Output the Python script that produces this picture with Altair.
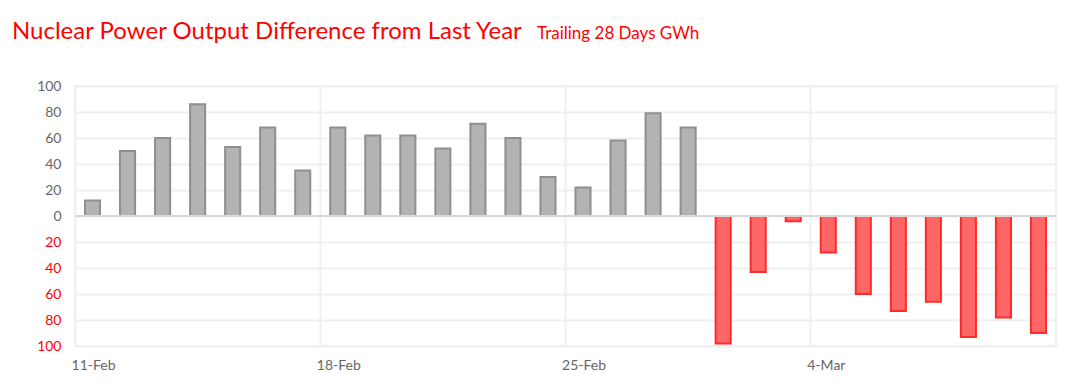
import altair as alt
import pandas as pd

days = [f"{d}-Feb" for d in range(11, 29)] + [f"{d}-Mar" for d in range(1, 11)]
values = [12, 50, 60, 86, 53, 68, 35, 68, 62, 62, 52, 71, 60, 30, 22, 58, 79, 68,
          -98, -43, -4, -28, -60, -73, -66, -93, -78, -90]
tick_days = ["11-Feb", "18-Feb", "25-Feb", "4-Mar"]
y_ticks = [-100, -80, -60, -40, -20, 0, 20, 40, 60, 80, 100]
title_text = "Nuclear Power Output Difference from Last Year"
subtitle_text = "Trailing 28 Days GWh"

df = pd.DataFrame({"day": days, "value": values})
FONT = "Lato"

y_axis = alt.Axis(values=y_ticks, ticks=False, domain=False,
                  grid=True, gridColor="#f0f0f0", gridWidth=2,
                  labelOverlap=False, labelFlush=False,
                  labelExpr="abs(datum.value)",
                  labelColor=alt.condition("datum.value < 0", alt.value("#ff0000"), alt.value("#666666")),
                  labelPadding=14, labelFont=FONT, labelFontSize=14)
y_scale = alt.Scale(domain=[-100, 100], nice=False)

bars = alt.Chart(df).mark_bar(strokeWidth=2, width=alt.RelativeBandSize(0.43)).encode(
    x=alt.X("day:O", sort=days, title=None,
            scale=alt.Scale(paddingInner=0, paddingOuter=0),
            axis=alt.Axis(values=tick_days, bandPosition=0, labelAngle=0,
                          labelAlign="left", labelBaseline="top", labelOffset=-21,
                          labelPadding=12, ticks=False, domain=False,
                          grid=True, gridColor="#f0f0f0", gridWidth=2,
                          labelColor="#666666", labelFont=FONT, labelFontSize=14)),
    y=alt.Y("value:Q", title=None, scale=y_scale, axis=y_axis),
    color=alt.condition("datum.value < 0", alt.value("#ff6666"), alt.value("#b3b3b3")),
    stroke=alt.condition("datum.value < 0", alt.value("#ff2a2a"), alt.value("#8f8f8f")),
)

zero = alt.Chart(pd.DataFrame({"value": [0]})).mark_rule(color="#d9d9d9", strokeWidth=2).encode(
    y=alt.Y("value:Q", title=None, scale=y_scale, axis=y_axis)
)

title = alt.Chart(pd.DataFrame({"t": [title_text]})).mark_text(
    align="left", baseline="alphabetic", fontSize=24, font=FONT, color="#ff0000"
).encode(text="t:N", x=alt.value(-63), y=alt.value(-47))

subtitle = alt.Chart(pd.DataFrame({"t": [subtitle_text]})).mark_text(
    align="left", baseline="alphabetic", fontSize=17, font=FONT, color="#ff0000"
).encode(text="t:N", x=alt.value(462), y=alt.value(-47))

chart = alt.layer(bars, zero, title, subtitle).properties(
    width=981, height=260,
    autosize=alt.AutoSizeParams(type="none"),
    padding={"left": 67, "top": 78, "right": 22, "bottom": 30},
).configure_view(stroke="#f0f0f0", strokeWidth=2).configure_axis(labelOverlap=False)

chart.save("out.html", embed_options={"renderer": "svg", "actions": False})
